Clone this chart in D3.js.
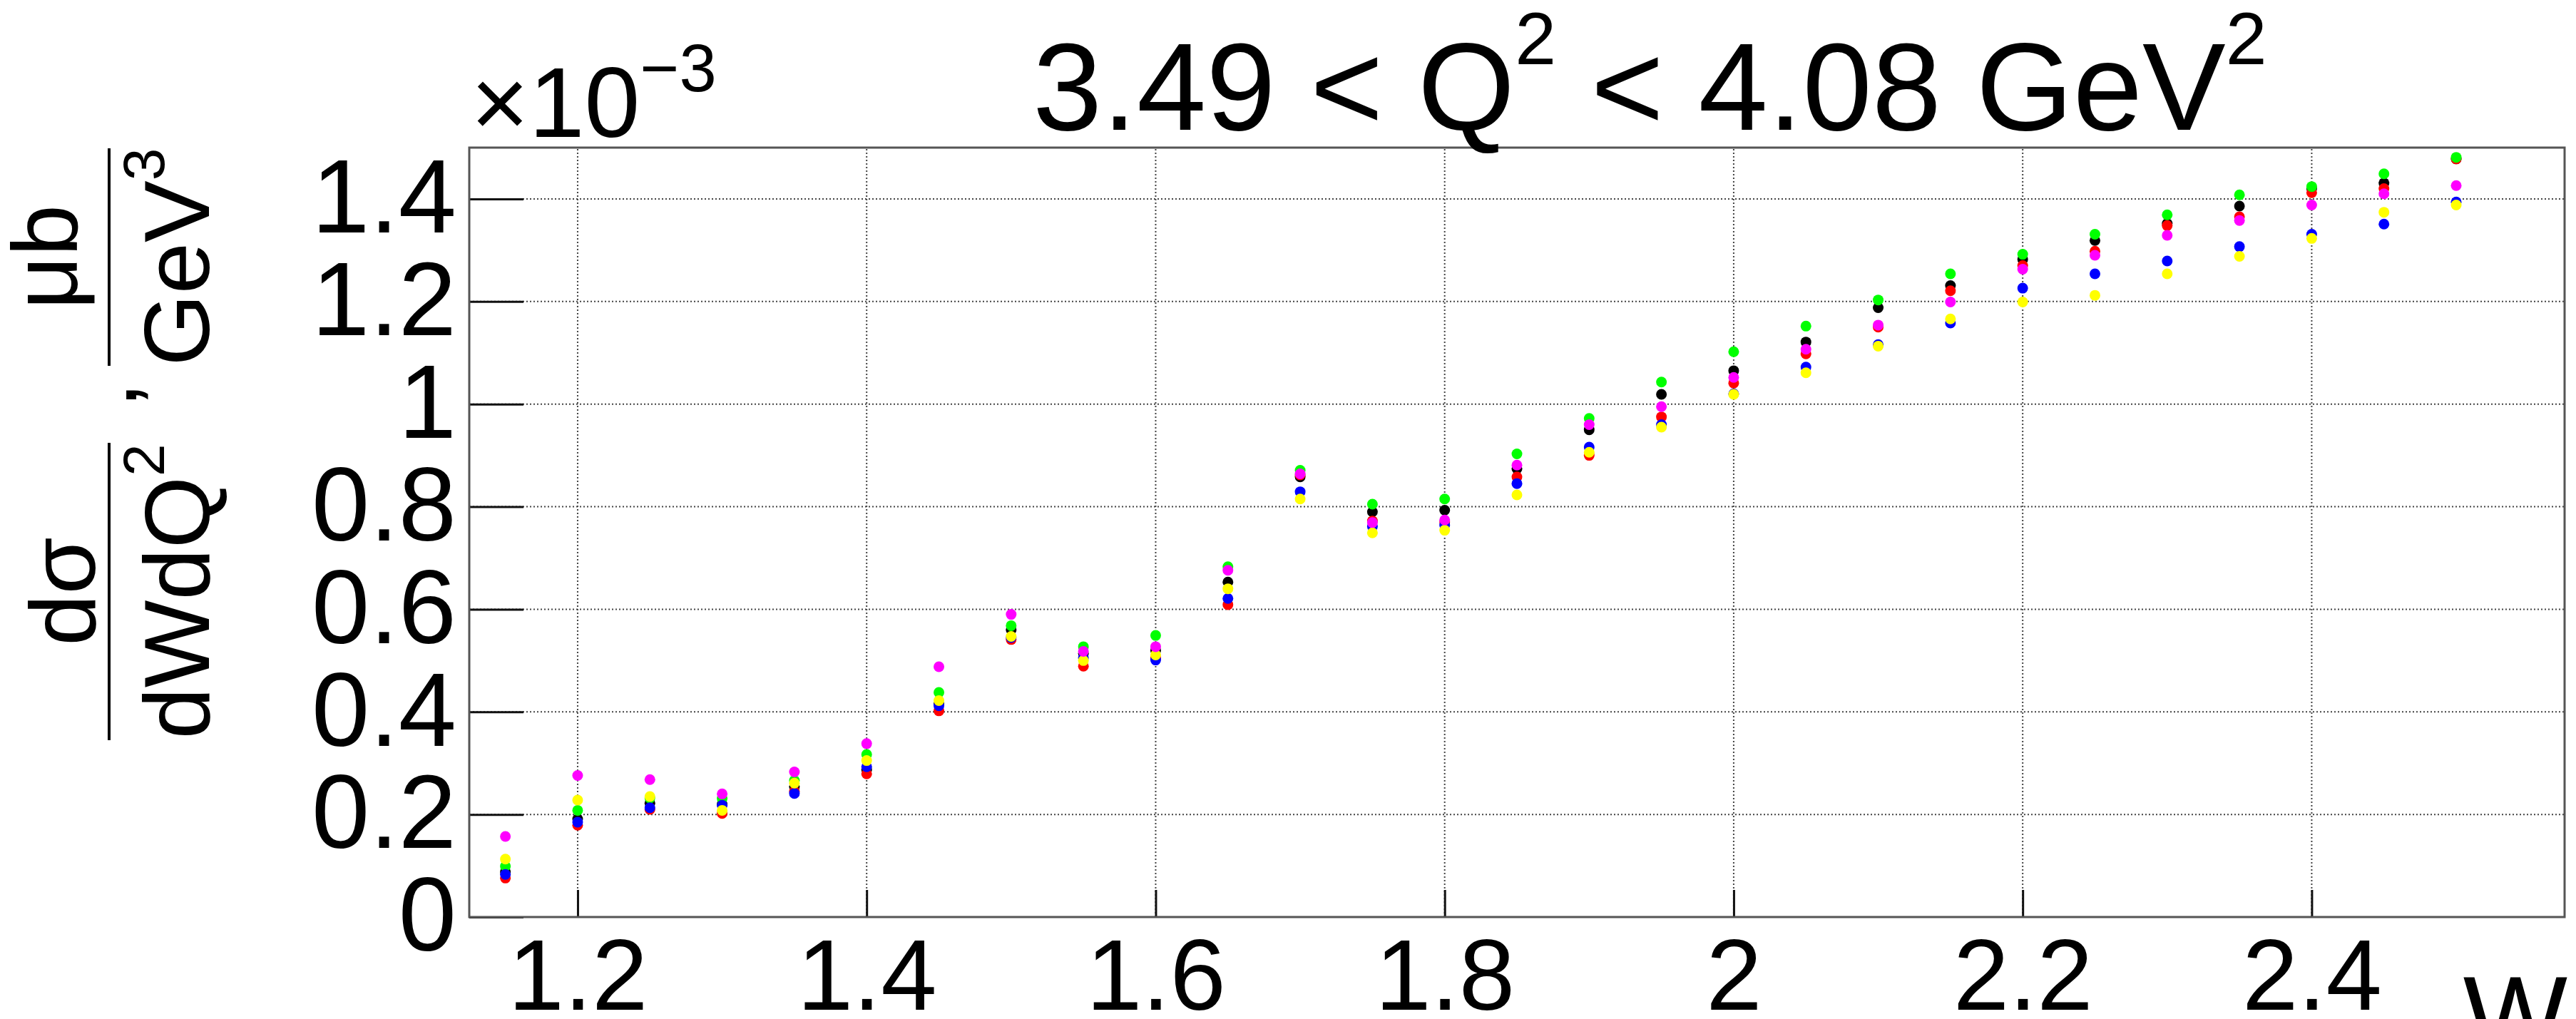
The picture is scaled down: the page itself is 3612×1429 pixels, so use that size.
<!DOCTYPE html>
<html>
<head>
<meta charset="utf-8">
<script src="https://cdn.jsdelivr.net/npm/d3@7"></script>
<style>
  html, body { margin: 0; padding: 0; background: #fff; }
  svg text { font-family: "Liberation Sans", Arial, Helvetica, sans-serif; white-space: pre; }
</style>
</head>
<body>
<svg id="chart"></svg>
<script>
// W bins (GeV)
const wValues = [1.15, 1.2, 1.25, 1.3, 1.35, 1.4, 1.45, 1.5, 1.55, 1.6, 1.65, 1.7, 1.75, 1.8,
  1.85, 1.9, 1.95, 2.0, 2.05, 2.1, 2.15, 2.2, 2.25, 2.3, 2.35, 2.4, 2.45, 2.5];

// cross sections, in units of 1e-3 ub/GeV^3
const blackValues = [0.088, 0.191, 0.222, 0.220, 0.254, 0.287, 0.415, 0.560, 0.514, 0.520, 0.653, 0.858, 0.790, 0.793,
  0.874, 0.950, 1.019, 1.065, 1.121, 1.188, 1.231, 1.282, 1.319, 1.352, 1.386, 1.420, 1.431, 1.478];
const redValues = [0.076, 0.179, 0.210, 0.202, 0.245, 0.279, 0.402, 0.541, 0.489, 0.505, 0.609, 0.862, 0.772, 0.770,
  0.858, 0.900, 0.975, 1.041, 1.098, 1.150, 1.221, 1.270, 1.298, 1.348, 1.365, 1.412, 1.420, 1.478];
const greenValues = [0.099, 0.208, 0.232, 0.231, 0.266, 0.317, 0.438, 0.568, 0.527, 0.549, 0.683, 0.871, 0.805, 0.815,
  0.903, 0.972, 1.043, 1.102, 1.152, 1.203, 1.254, 1.292, 1.331, 1.369, 1.408, 1.424, 1.449, 1.481];
const blueValues = [0.083, 0.185, 0.213, 0.218, 0.241, 0.293, 0.412, 0.545, 0.505, 0.501, 0.621, 0.829, 0.761, 0.764,
  0.845, 0.916, 0.960, 1.020, 1.072, 1.116, 1.158, 1.226, 1.254, 1.279, 1.307, 1.331, 1.351, 1.394];
const yellowValues = [0.113, 0.228, 0.235, 0.208, 0.261, 0.305, 0.422, 0.547, 0.500, 0.511, 0.640, 0.815, 0.749, 0.754,
  0.823, 0.906, 0.955, 1.019, 1.061, 1.113, 1.166, 1.199, 1.212, 1.254, 1.288, 1.323, 1.374, 1.388];
const magentaValues = [0.157, 0.276, 0.268, 0.240, 0.283, 0.338, 0.488, 0.590, 0.518, 0.527, 0.676, 0.864, 0.769, 0.774,
  0.881, 0.960, 0.995, 1.052, 1.107, 1.154, 1.199, 1.263, 1.290, 1.329, 1.358, 1.388, 1.410, 1.426];

const seriesNames = ["black", "red", "green", "blue", "yellow", "magenta"];
const seriesColors = ["#000000", "#ff0000", "#00ff00", "#0000ff", "#ffff00", "#ff00ff"];
const seriesValues = [blackValues, redValues, greenValues, blueValues, yellowValues, magentaValues];

const xTicks = [1.2, 1.4, 1.6, 1.8, 2.0, 2.2, 2.4];
const xTickLabels = ["1.2", "1.4", "1.6", "1.8", "2", "2.2", "2.4"];
const yTicks = [0, 0.2, 0.4, 0.6, 0.8, 1.0, 1.2, 1.4];
const yTickLabels = ["0", "0.2", "0.4", "0.6", "0.8", "1", "1.2", "1.4"];

const width = 3612;
const height = 1429;
const frame = { left: 658, right: 3596, top: 207, bottom: 1286 };

const svg = d3.select("#chart").attr("width", width).attr("height", height);
svg.append("rect").attr("width", width).attr("height", height).attr("fill", "white");

const x = d3.scaleLinear().domain([1.125, 2.575]).range([frame.left, frame.right]);
const y = d3.scaleLinear().domain([0, 1.5]).range([frame.bottom, frame.top]);

// dotted grid
const grid = svg.append("g").attr("class", "grid")
  .attr("stroke", "#444").attr("stroke-width", 2).attr("stroke-dasharray", "2,3");
grid.selectAll(".vgrid").data(xTicks).join("line")
  .attr("x1", (d) => x(d)).attr("x2", (d) => x(d))
  .attr("y1", frame.bottom).attr("y2", frame.top);
grid.selectAll(".hgrid").data(yTicks.filter((d) => d > 0)).join("line")
  .attr("x1", frame.left).attr("x2", frame.right)
  .attr("y1", (d) => y(d)).attr("y2", (d) => y(d));

// axes, ticks pointing inside like ROOT
const yAxis = svg.append("g")
  .attr("transform", `translate(${frame.left},0)`)
  .call(d3.axisLeft(y).tickValues(yTicks).tickSize(-76).tickPadding(18)
    .tickFormat((d, i) => yTickLabels[i]));
yAxis.select(".domain").remove();
yAxis.selectAll(".tick line").attr("stroke", "#111").attr("stroke-width", 3);
yAxis.selectAll(".tick text").attr("font-size", 146).attr("fill", "#000")
  .style("font-family", "'Liberation Sans', Arial, sans-serif");

const xAxis = svg.append("g")
  .attr("transform", `translate(0,${frame.bottom})`)
  .call(d3.axisBottom(x).tickValues(xTicks).tickSize(-38).tickPadding(30)
    .tickFormat((d, i) => xTickLabels[i]));
xAxis.select(".domain").remove();
xAxis.selectAll(".tick line").attr("stroke", "#111").attr("stroke-width", 3);
xAxis.selectAll(".tick text").attr("font-size", 141).attr("fill", "#000")
  .style("font-family", "'Liberation Sans', Arial, sans-serif");

// frame
svg.append("rect")
  .attr("x", frame.left).attr("y", frame.top)
  .attr("width", frame.right - frame.left).attr("height", frame.bottom - frame.top)
  .attr("fill", "none").attr("stroke", "#555").attr("stroke-width", 3);

// markers, drawn in ROOT colour order
seriesValues.forEach((values, s) => {
  svg.append("g").attr("class", `series-${seriesNames[s]}`)
    .selectAll("circle")
    .data(values.map((v, i) => ({ w: wValues[i], v })))
    .join("circle")
    .attr("cx", (d) => x(d.w))
    .attr("cy", (d) => y(d.v))
    .attr("r", 7.5)
    .attr("fill", seriesColors[s]);
});

// title
const title = svg.append("text").attr("x", 1448).attr("y", 182).attr("font-size", 175);
title.append("tspan").text("3.49 < Q");
title.append("tspan").text("2").attr("font-size", 104).attr("dy", -92);
title.append("tspan").text(" < 4.08 GeV").attr("dy", 92);
title.append("tspan").text("2").attr("font-size", 104).attr("dy", -92);

// exponent
const expo = svg.append("text").attr("x", 660).attr("y", 192).attr("font-size", 140);
expo.append("tspan").text("×10");
expo.append("tspan").text("−3").attr("font-size", 94).attr("dy", -64);

// x axis title
svg.append("text").attr("x", 3600).attr("y", 1478)
  .attr("text-anchor", "end").attr("font-size", 155).text("W");

// y axis title: two stacked fractions, rotated
const yTitle = svg.append("g").attr("transform", "translate(191,1038) rotate(-90)");
function fraction(g, u0, len, num, numBase, den, sup) {
  g.append("line").attr("x1", u0).attr("x2", u0 + len)
    .attr("y1", -38).attr("y2", -38).attr("stroke", "#000").attr("stroke-width", 4);
  g.append("text").attr("x", u0 + len / 2).attr("y", numBase)
    .attr("text-anchor", "middle").attr("font-size", 130).text(num);
  const t = g.append("text").attr("x", u0 + len / 2).attr("y", 102)
    .attr("text-anchor", "middle").attr("font-size", 130);
  t.append("tspan").text(den);
  t.append("tspan").text(sup).attr("font-size", 82).attr("dy", -63);
}
fraction(yTitle, 0, 417, "dσ", -58, "dWdQ", "2");
yTitle.append("text").attr("x", 466).attr("y", 0).attr("font-size", 130).text(",");
fraction(yTitle, 525, 305, "μb", -83, "GeV", "3");
</script>
</body>
</html>
